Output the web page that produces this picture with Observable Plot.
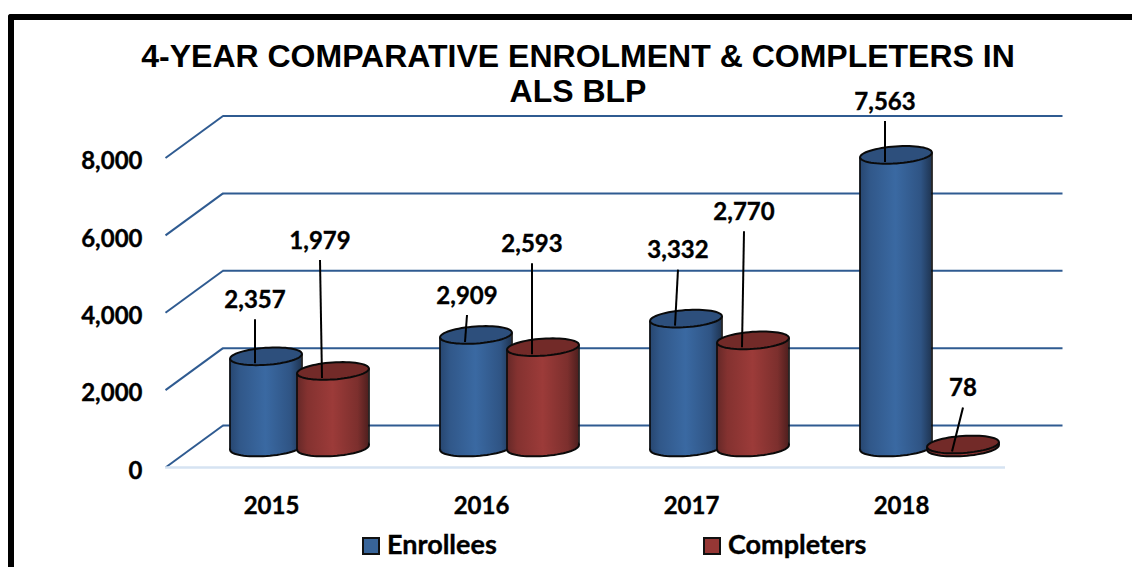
<!DOCTYPE html>
<html>
<head>
<meta charset="utf-8">
<script src="https://cdn.jsdelivr.net/npm/d3@7"></script>
<script src="https://cdn.jsdelivr.net/npm/@observablehq/plot@0.6"></script>
<style>
  html, body { margin: 0; padding: 0; background: #fff; width: 1132px; height: 567px; overflow: hidden; }
  #frame { position: absolute; left: 8px; top: 14px; right: 0; bottom: 0; border-left: 6px solid #000; border-top: 6px solid #000; border-top-left-radius: 3px; box-sizing: border-box; }
  #title { position: absolute; left: 14px; width: 1128px; top: 39px; text-align: center; font: bold 32px/35px "Liberation Sans", Arial, sans-serif; color: #000; }
  #chart { position: absolute; left: 0; top: 0; }
  #chart svg text { stroke: #000; stroke-width: 0.35px; }
  .legend { position: absolute; top: 528px; font: bold 27px/32px Lato, sans-serif; color: #000; white-space: nowrap; -webkit-text-stroke: 0.35px #000; }
  .legend i { position: absolute; top: 9px; width: 14px; height: 14px; border: 2px solid #111; }
</style>
</head>
<body>
<div id="frame"></div>
<div id="chart"></div>
<div id="title">4-YEAR COMPARATIVE ENROLMENT &amp; COMPLETERS IN<br>ALS BLP</div>
<div class="legend" style="left:387px"><i style="left:-25px;background:#386499"></i>Enrollees</div>
<div class="legend" style="left:728px"><i style="left:-25px;background:#953735"></i>Completers</div>
<script>
const years = ["2015", "2016", "2017", "2018"];
const enrollees = [2357, 2909, 3332, 7563];
const completers = [1979, 2593, 2770, 78];
const yTicks = [0, 2000, 4000, 6000, 8000];

// leader-line layout, in pixels from the top of each cylinder
const enrolleeRise = [44, 27, 56, 41];
const enrolleeLean = [0, 2, 3, 0];
const completerRise = [118, 91, 116, 44];
const completerLean = [-2, 0, 2, 11];

// pseudo-3D layout
const pxPerCategory = 210, pxPerUnit = 309.5 / 8000;
const depthX = 57.5, depthY = 42;
const midX = 29, midY = -20;
const barOffset = 33.5 / pxPerCategory, barHalf = 36 / pxPerCategory;
const tiltPx = 2.5;
const tiltUnits = tiltPx / pxPerUnit;

const tilt = -4 * Math.PI / 180;
const ellipse = {
  draw(ctx, size) {
    const rx = Math.sqrt(size / Math.PI), ry = 8.5;
    for (let k = 0; k < 64; ++k) {
      const a = k / 64 * 2 * Math.PI, ex = rx * Math.cos(a), ey = ry * Math.sin(a);
      const px = ex * Math.cos(tilt) - ey * Math.sin(tilt), py = ex * Math.sin(tilt) + ey * Math.cos(tilt);
      k ? ctx.lineTo(px, py) : ctx.moveTo(px, py);
    }
    ctx.closePath();
  }
};

function table(values, side, rise, lean) {
  return years.map((year, i) => ({
    year, value: values[i],
    pos: i + 0.5 + side * barOffset,
    tipX: i + 0.5 + side * barOffset + lean[i] / pxPerCategory,
    tipY: values[i] + rise[i] / pxPerUnit
  }));
}
const enrolleeRows = table(enrollees, -1, enrolleeRise, enrolleeLean);
const completerRows = table(completers, 1, completerRise, completerLean);

function cylinder(rows, gradient, topColor) {
  const shift = {dx: midX, dy: midY};
  const body = rows.flatMap(d => [
    {year: d.year, x: d.pos - barHalf, y1: -tiltUnits, y2: d.value - tiltUnits},
    {year: d.year, x: d.pos + barHalf, y1: tiltUnits, y2: d.value + tiltUnits}
  ]);
  return [
    Plot.dot(rows, {x: "pos", y: () => 0, r: 36, symbol: ellipse, fill: `url(#${gradient})`, stroke: "#0a0a0a", strokeWidth: 2, ...shift}),
    Plot.areaY(body, {x: "x", y1: "y1", y2: "y2", z: "year", fill: `url(#${gradient})`, ...shift}),
    Plot.link(body, {x1: "x", x2: "x", y1: "y1", y2: "y2", stroke: "#0a0a0a", strokeWidth: 1.6, ...shift}),
    Plot.dot(rows, {x: "pos", y: "value", r: 36, symbol: ellipse, fill: topColor, stroke: "#0a0a0a", strokeWidth: 2, ...shift})
  ];
}

function leaders(rows) {
  return [
    Plot.link(rows, {x1: "pos", y1: "value", x2: "tipX", y2: "tipY", stroke: "#000", strokeWidth: 2, dx: midX - 11, dy: midY + 7}),
    Plot.text(rows, {x: "tipX", y: "tipY", text: d => d3.format(",")(d.value), dx: midX - 11, dy: midY + 7 - 19, fontSize: 24, fontWeight: "bold", fill: "#000"})
  ];
}

const defs = () => {
  const ns = "http://www.w3.org/2000/svg";
  const d = document.createElementNS(ns, "defs");
  const grad = (id, stops) => {
    const g = document.createElementNS(ns, "linearGradient");
    g.setAttribute("id", id);
    stops.forEach(([o, c]) => {
      const s = document.createElementNS(ns, "stop");
      s.setAttribute("offset", o);
      s.setAttribute("stop-color", c);
      g.appendChild(s);
    });
    d.appendChild(g);
  };
  grad("blueBody", [[0, "#27466f"], [0.15, "#31588a"], [0.5, "#3a69a2"], [0.85, "#2f5484"], [1, "#1f3553"]]);
  grad("redBody", [[0, "#642827"], [0.15, "#843230"], [0.5, "#9c3b39"], [0.85, "#7c2f2d"], [1, "#4f1f1e"]]);
  return d;
};

const wall = "#2f5b91";
const chart = Plot.plot({
  width: 1132,
  height: 567,
  marginLeft: 165,
  marginRight: 127,
  marginTop: 157,
  marginBottom: 100,
  style: {fontFamily: "Lato, sans-serif", background: "transparent", overflow: "visible"},
  x: {domain: [0, 4], range: [165, 1005]},
  y: {domain: [0, 8000], range: [467, 157.5]},
  marks: [
    defs,
    Plot.ruleY(yTicks, {x1: 0, x2: 4, stroke: wall, strokeWidth: 2, dx: depthX, dy: -depthY}),
    Plot.link(yTicks, {x1: 0, x2: depthX / pxPerCategory, y1: d => d, y2: d => d + depthY / pxPerUnit, stroke: wall, strokeWidth: 2}),
    Plot.ruleY([0], {x1: 0, x2: 4, stroke: "#d6e3f2", strokeWidth: 2.5}),
    Plot.axisY({ticks: yTicks, tickFormat: d3.format(","), tickSize: 0, tickPadding: 23, label: null, fontSize: 24, fontWeight: "bold", fill: "#000", dy: 3.5}),
    Plot.axisX({ticks: years.map((_, i) => i + 0.5), tickFormat: t => years[t - 0.5], tickSize: 0, tickPadding: 28, label: null, fontSize: 24, fontWeight: "bold", fill: "#000", dy: 1, dx: 1}),
    ...cylinder(enrolleeRows, "blueBody", "#2d4f7c"),
    ...cylinder(completerRows, "redBody", "#722a28"),
    ...leaders(enrolleeRows),
    ...leaders(completerRows)
  ]
});
document.getElementById("chart").appendChild(chart);
</script>
</body>
</html>
